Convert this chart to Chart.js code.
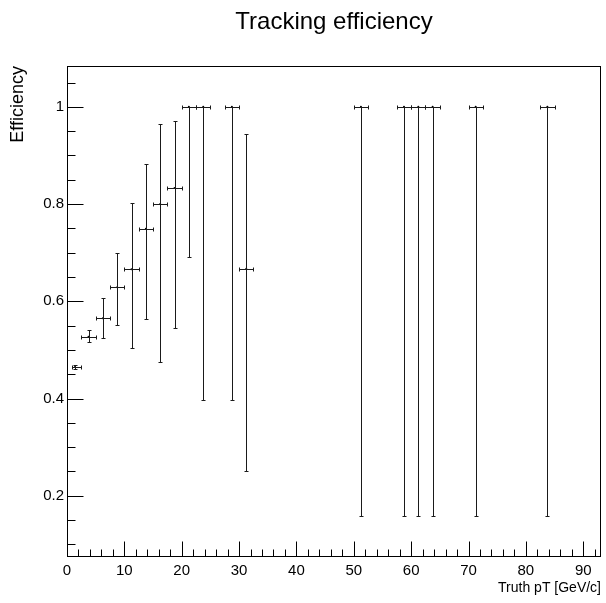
<!DOCTYPE html>
<html><head><meta charset="utf-8">
<script src="https://cdn.jsdelivr.net/npm/chart.js@4.4.0/dist/chart.umd.min.js"></script>
<style>html,body{margin:0;padding:0;background:#fff;}#wrap{width:606px;height:603px;}</style>
</head><body><div id="wrap"><canvas id="c" width="606" height="603"></canvas></div>
<script>
// Truth pT bin centres [GeV/c]
const ptValues = [1.4, 3.75, 6.25, 8.75, 11.25, 13.75, 16.25, 18.75, 21.25, 23.75, 28.75, 31.25, 51.25, 58.75, 61.25, 63.75, 71.25, 83.75];
// horizontal half-widths (bin edges relative to point)
const ptErrLow  = [0.5, 1.25, 1.25, 1.25, 1.25, 1.25, 1.25, 1.25, 1.25, 1.25, 1.25, 1.25, 1.25, 1.25, 1.25, 1.25, 1.25, 1.25];
const ptErrHigh = [1.1, 1.25, 1.25, 1.25, 1.25, 1.25, 1.25, 1.25, 1.25, 1.25, 1.25, 1.25, 1.25, 1.25, 1.25, 1.25, 1.25, 1.25];
// efficiency and its interval bounds
const efficiency = [0.465, 0.527, 0.565, 0.629, 0.666, 0.749, 0.800, 0.833, 1.0, 1.0, 1.0, 0.667, 1.0, 1.0, 1.0, 1.0, 1.0, 1.0];
const effLow     = [0.461, 0.516, 0.524, 0.552, 0.504, 0.564, 0.475, 0.546, 0.691, 0.397, 0.397, 0.250, 0.158, 0.158, 0.158, 0.158, 0.158, 0.158];
const effHigh    = [0.469, 0.540, 0.607, 0.700, 0.803, 0.882, 0.965, 0.971, 1.0, 1.0, 1.0, 0.944, 1.0, 1.0, 1.0, 1.0, 1.0, 1.0];
// axis tick labels
const xTickLabels = [0, 10, 20, 30, 40, 50, 60, 70, 80, 90];
const yTickLabels = [0.2, 0.4, 0.6, 0.8, 1];

const FONT = "'Liberation Sans', Arial, Helvetica, sans-serif";

const rootFrame = {
  id: 'rootFrame',
  afterDraw(chart) {
    const {ctx, chartArea: a, scales: {x, y}} = chart;
    ctx.save();
    ctx.strokeStyle = '#000';
    ctx.lineWidth = 1;
    const L = Math.round(a.left) + 0.5, R = Math.round(a.right) - 0.5;
    const T = Math.round(a.top) + 0.5, B = Math.round(a.bottom) - 0.5;
    ctx.strokeRect(L, T, R - L, B - T);
    ctx.beginPath();
    // x ticks (major every 10, minor every 2) pointing inward
    for (let v = 0; v <= x.max + 1e-9; v += 2) {
      const px = Math.round(x.getPixelForValue(v)) + 0.5;
      const len = (Math.round(v) % 10 === 0) ? 15 : 7;
      ctx.moveTo(px, B); ctx.lineTo(px, B - len);
    }
    // y ticks (major every 0.2, minor every 0.05)
    for (let k = 2; k * 0.05 <= y.max + 1e-9; k++) {
      const v = k * 0.05;
      if (v < y.min) continue;
      const py = Math.round(y.getPixelForValue(v)) + 0.5;
      const len = (k % 4 === 0) ? 16 : 8;
      ctx.moveTo(L, py); ctx.lineTo(L + len, py);
    }
    ctx.stroke();
    ctx.restore();
  }
};

const errorBars = {
  id: 'errorBars',
  afterDatasetsDraw(chart) {
    const {ctx, scales: {x, y}} = chart;
    ctx.save();
    ctx.strokeStyle = '#1a1a1a';
    ctx.lineWidth = 1;
    ctx.beginPath();
    const cap = 2;
    for (let i = 0; i < ptValues.length; i++) {
      const px = Math.round(x.getPixelForValue(ptValues[i])) + 0.5;
      const py = Math.round(y.getPixelForValue(efficiency[i])) + 0.5;
      const x0 = Math.round(x.getPixelForValue(ptValues[i] - ptErrLow[i])) + 0.5;
      const x1 = Math.round(x.getPixelForValue(ptValues[i] + ptErrHigh[i])) + 0.5;
      const yLo = Math.round(y.getPixelForValue(effLow[i])) + 0.5;
      const yHi = Math.round(y.getPixelForValue(effHigh[i])) + 0.5;
      // horizontal bar with end caps
      ctx.moveTo(x0, py); ctx.lineTo(x1, py);
      ctx.moveTo(x0, py - cap); ctx.lineTo(x0, py + cap);
      ctx.moveTo(x1, py - cap); ctx.lineTo(x1, py + cap);
      // vertical bar with end caps
      ctx.moveTo(px, yHi); ctx.lineTo(px, yLo);
      ctx.moveTo(px - cap, yLo); ctx.lineTo(px + cap, yLo);
      ctx.moveTo(px - cap, yHi); ctx.lineTo(px + cap, yHi);
    }
    ctx.stroke();
    ctx.restore();
  }
};

new Chart(document.getElementById('c'), {
  type: 'scatter',
  data: {
    datasets: [{
      label: 'Efficiency',
      data: ptValues.map((v, i) => ({x: v, y: efficiency[i]})),
      pointRadius: 1,
      pointBackgroundColor: '#000',
      pointBorderColor: '#000',
      pointBorderWidth: 0,
      showLine: false
    }]
  },
  options: {
    responsive: false,
    animation: false,
    devicePixelRatio: 1,
    layout: {padding: {left: 0, right: 5, top: 0, bottom: 0}},
    plugins: {
      legend: {display: false},
      tooltip: {enabled: false},
      title: {
        display: true,
        fullSize: false,
        text: 'Tracking efficiency',
        color: '#000',
        font: {family: FONT, size: 24, weight: 'normal'},
        padding: {top: 8, bottom: 29.2}
      }
    },
    scales: {
      x: {
        type: 'linear',
        position: 'bottom',
        min: 0,
        max: 93.1,
        grid: {display: false, drawTicks: false},
        border: {display: false},
        afterBuildTicks: s => { s.ticks = xTickLabels.map(v => ({value: v})); },
        afterFit: s => { s.height = 46; },
        ticks: {
          color: '#000',
          font: {family: FONT, size: 15},
          padding: 5,
          maxRotation: 0,
          autoSkip: false,
          callback: v => String(v)
        },
        title: {
          display: true,
          text: 'Truth pT [GeV/c]',
          align: 'end',
          color: '#000',
          font: {family: FONT, size: 14},
          padding: {top: 0, bottom: 6}
        }
      },
      y: {
        type: 'linear',
        min: 0.074,
        max: 1.084,
        grid: {display: false, drawTicks: false},
        border: {display: false},
        afterBuildTicks: s => { s.ticks = yTickLabels.map(v => ({value: v})); },
        afterFit: s => { s.width = 67; },
        ticks: {
          color: '#000',
          font: {family: FONT, size: 15},
          padding: 3,
          autoSkip: false,
          callback: v => String(v)
        },
        title: {
          display: true,
          text: 'Efficiency',
          align: 'end',
          color: '#000',
          font: {family: FONT, size: 18},
          padding: {top: 7, bottom: 0}
        }
      }
    }
  },
  plugins: [errorBars, rootFrame]
});
</script>
</body></html>
